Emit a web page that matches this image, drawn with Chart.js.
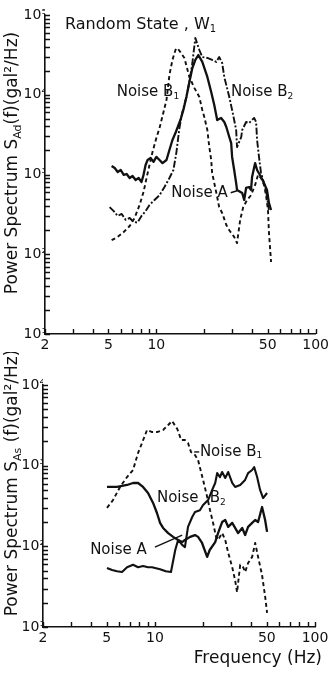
<!DOCTYPE html>
<html>
<head>
<meta charset="utf-8">
<script src="https://cdn.jsdelivr.net/npm/chart.js@4.4.1/dist/chart.umd.min.js"></script>
<style>
  html, body { margin: 0; padding: 0; background: #fff; }
  body { width: 332px; height: 673px; position: relative; overflow: hidden; }
  canvas { position: absolute; left: 0; }
  #topChart { top: 0; }
  #bottomChart { top: 352px; }
</style>
</head>
<body>
<canvas id="topChart" width="332" height="352"></canvas>
<canvas id="bottomChart" width="332" height="321"></canvas>
<script>
// ---- upper panel: response spectra, random state W1 ----
const topAFreq  = [5.24,5.48,5.72,5.97,6.24,6.51,6.80,7.09,7.41,7.74,8.07,8.31,8.56,8.81,9.20,9.60,10.0,10.47,10.93,11.58,12.08,12.62,13.18,13.55,14.16,14.78,15.44,16.12,16.83,17.57,18.35,19.43,20.9,22.1,23.1,24.1,25.5,26.7,27.5,28.7,29.5,29.9,30.8,31.7,32.1,34.6,35.6,36.6,38.2,39.3,39.9,41.7,42.9,45.4,47.4,49.5,50.9,52.5];
const topAPower = [1280,1205,1075,1140,990,1015,904,958,853,904,805,990,1315,1520,1610,1440,1660,1520,1390,1520,2030,2710,3310,3830,4820,6440,9370,14450,21600,27300,31500,25800,16700,10800,7430,4820,5120,4550,3940,2950,2480,1660,1140,780,640,586,479,678,697,640,930,1390,1140,930,780,640,440,359];

const topB1Freq  = [5.24,5.72,6.24,6.80,7.30,7.85,8.31,8.68,9.06,9.46,10.0,10.47,10.93,11.58,12.08,12.62,13.18,13.55,14.16,15.0,16.12,17.32,18.62,19.43,20.0,20.9,21.5,22.1,22.4,23.1,24.1,24.8,25.9,27.5,28.7,30.8,32.1,33.6,35.1,37.1,39.3,41.7,43.5,45.4,47.4,48.8,50.2,50.9,52.5];
const topB1Power = [150,165,190,226,285,415,604,904,1315,1910,2870,3830,5400,8590,17700,27300,36400,38500,34300,28900,16700,12200,9370,6440,5260,3610,2210,1520,1045,782,522,390,329,233,200,165,138,270,390,479,550,740,990,904,740,550,359,190,80];

const topB2Freq  = [5.09,5.40,5.72,6.06,6.42,6.80,7.20,7.62,8.07,8.56,9.06,9.74,10.47,11.25,12.08,12.80,13.37,13.96,14.57,15.44,16.12,16.83,17.57,18.62,19.43,20.9,22.4,23.8,24.8,25.9,26.7,27.5,28.7,29.9,30.8,31.7,32.1,34.1,34.6,36.6,38.2,41.1,42.3,42.9,44.1,45.4,47.4,48.8,50.9];
const topB2Power = [390,348,302,320,270,285,254,250,302,348,415,479,550,697,904,1140,1910,3830,6080,9370,14450,25000,51500,36400,29700,28900,27300,25800,29700,25000,16700,13200,9370,6440,4820,3610,2210,2950,3610,4550,4420,5120,4550,2710,1660,1045,780,640,359];

// ---- lower panel: input noise spectra ----
const botAFreq  = [5.02,5.80,6.70,7.30,7.85,8.43,9.06,9.74,10.3,10.77,11.25,12.1,13.0,13.96,14.8,15.4,16.6,17.8,18.6,19.7,21.2,22.0,23.8,24.8,26.3,27.5,28.7,30.4,31.7,33.1,35.1,36.6,38.2,40.5,42.3,44.1,46.7,48.8,50.2];
const botAPower = [545,545,576,610,610,545,458,345,259,195,169,146,131,120,113,120,131,138,131,110,74,90,113,146,200,212,174,195,169,146,169,138,174,195,212,200,307,212,151];

const botB1Freq  = [5.02,5.48,6.06,6.70,7.30,7.85,8.31,8.93,9.60,10.3,11.25,12.1,12.8,13.8,14.6,15.4,16.1,16.8,17.8,18.6,20.0,21.2,22.1,23.1,24.1,24.8,26.3,27.5,28.7,30.4,31.7,32.6,34.1,35.6,36.6,38.2,40.5,42.3,44.1,46.7,48.8,50.2];
const botB1Power = [300,375,545,723,883,1440,1910,2770,2610,2610,2770,3190,3580,2850,2080,2080,1910,1480,1355,1175,665,410,280,195,131,120,146,120,83,55,38,27,59,55,48,62,74,110,74,44,24,15];

const botB2Freq  = [5.02,5.40,5.80,6.23,6.70,7.30,7.85,8.43,9.06,9.6,10.77,11.7,12.6,13.4,13.96,14.8,15.4,16.1,17.1,17.8,19.1,20.0,21.5,22.8,23.8,24.5,25.5,26.3,27.5,28.7,30.4,31.7,34.1,36.6,38.2,40.5,41.7,43.5,45.4,47.4,50.2];
const botB2Power = [54,51,49,48,55,59,55,57,55,55,52,49,48,90,120,104,98,174,231,267,280,325,375,500,610,810,723,834,703,834,610,545,576,665,810,883,960,723,500,397,458];

// axis ticks
const xTickValues = [2,3,4,5,6,7,8,9,10,20,30,40,50,60,70,80,90,100];
const xTickLabels = [2, 5, 10, 50, 100];
const yDecades = [10, 100, 1000, 10000, 100000];
const SUP = ['⁰','¹','²','³','⁴','⁵'];

const INK = '#111';
const FAMILY = '"DejaVu Sans", sans-serif';

function logTicks(lo, hi) {
    const out = [];
    for (let d = lo; d < hi; d *= 10) {
        for (let m = 1; m < 10; m++) out.push(m * d);
    }
    out.push(hi);
    return out;
}

// parts: plain strings, or one-element arrays for subscripts
function richWidth(ctx, parts, size) {
    let w = 0;
    parts.forEach(p => {
        const sub = Array.isArray(p);
        ctx.font = `${sub ? Math.round(size * 0.62) : size}px ${FAMILY}`;
        w += ctx.measureText(sub ? p[0] : p).width;
    });
    return w;
}

function drawRich(ctx, parts, x, y, size) {
    let cx = x;
    parts.forEach(p => {
        const sub = Array.isArray(p);
        const txt = sub ? p[0] : p;
        ctx.font = `${sub ? Math.round(size * 0.62) : size}px ${FAMILY}`;
        ctx.fillText(txt, cx, sub ? y + size * 0.28 : y);
        cx += ctx.measureText(txt).width;
    });
}

// tick marks pointing into the plot
const inwardTicks = {
    id: 'inwardTicks',
    afterDraw(chart) {
        const { ctx, chartArea, scales: { x, y } } = chart;
        ctx.save();
        ctx.strokeStyle = INK;
        ctx.lineWidth = 1.4;
        ctx.beginPath();
        x.ticks.forEach(t => {
            const px = Math.round(x.getPixelForValue(t.value)) + 0.5;
            ctx.moveTo(px, chartArea.bottom);
            ctx.lineTo(px, chartArea.bottom - 5);
        });
        y.ticks.forEach(t => {
            const py = Math.round(y.getPixelForValue(t.value)) + 0.5;
            ctx.moveTo(chartArea.left, py);
            ctx.lineTo(chartArea.left + 5, py);
        });
        ctx.stroke();
        ctx.restore();
    }
};

// curve labels, leader lines and axis titles
const panelText = {
    id: 'panelText',
    afterDraw(chart, args, opts) {
        const { ctx, scales: { x, y } } = chart;
        ctx.save();
        ctx.fillStyle = INK;
        ctx.strokeStyle = INK;
        ctx.textBaseline = 'middle';
        ctx.textAlign = 'left';

        (opts.notes || []).forEach(n => {
            drawRich(ctx, n.parts, x.getPixelForValue(n.at[0]), y.getPixelForValue(n.at[1]), n.size);
        });

        ctx.lineWidth = 1.4;
        (opts.leaders || []).forEach(([a, b]) => {
            ctx.beginPath();
            ctx.moveTo(x.getPixelForValue(a[0]), y.getPixelForValue(a[1]));
            ctx.lineTo(x.getPixelForValue(b[0]), y.getPixelForValue(b[1]));
            ctx.stroke();
        });

        if (opts.yTitle) {
            const t = opts.yTitle;
            ctx.save();
            ctx.translate(t.x, t.y);
            ctx.rotate(-Math.PI / 2);
            drawRich(ctx, t.parts, -richWidth(ctx, t.parts, t.size) / 2, 0, t.size);
            ctx.restore();
        }
        if (opts.xTitle) {
            const t = opts.xTitle;
            drawRich(ctx, t.parts, t.x - richWidth(ctx, t.parts, t.size), t.y, t.size);
        }
        ctx.restore();
    }
};

function buildPanel(id, cfg) {
    const tickFont = { family: FAMILY, size: 14 };
    return new Chart(document.getElementById(id), {
        type: 'line',
        data: {
            datasets: cfg.series.map(s => ({
                data: s.freq.map((f, i) => ({ x: f, y: s.power[i] })),
                borderColor: INK,
                borderWidth: s.width,
                borderDash: s.dash,
                borderJoinStyle: 'round',
                pointRadius: 0,
                tension: 0,
                fill: false
            }))
        },
        options: {
            responsive: false,
            animation: false,
            devicePixelRatio: 1,
            layout: { padding: cfg.padding },
            plugins: {
                legend: { display: false },
                tooltip: { enabled: false },
                panelText: cfg.text
            },
            scales: {
                x: {
                    type: 'logarithmic',
                    min: 2,
                    max: 100,
                    grid: { display: false, drawTicks: false },
                    border: { color: INK, width: 1.6 },
                    afterBuildTicks: scale => { scale.ticks = xTickValues.map(v => ({ value: v })); },
                    afterFit: scale => { scale.height = cfg.xHeight; },
                    ticks: {
                        autoSkip: false,
                        maxRotation: 0,
                        padding: 3,
                        color: INK,
                        font: tickFont,
                        callback: v => xTickLabels.includes(v) ? String(v) : ''
                    }
                },
                y: {
                    type: 'logarithmic',
                    min: 10,
                    max: cfg.yMax,
                    grid: { display: false, drawTicks: false },
                    border: { color: INK, width: 1.6 },
                    afterBuildTicks: scale => { scale.ticks = logTicks(10, cfg.yMax).map(v => ({ value: v })); },
                    afterFit: scale => { scale.width = cfg.yWidth; },
                    ticks: {
                        autoSkip: false,
                        padding: -2,
                        color: INK,
                        font: tickFont,
                        callback: v => {
                            const k = yDecades.indexOf(v);
                            return k >= 0 ? '10' + SUP[k + 1] : '';
                        }
                    }
                }
            }
        },
        plugins: [inwardTicks, panelText]
    });
}

buildPanel('topChart', {
    yMax: 100000,
    padding: { top: 15, right: 15, bottom: 0, left: 0 },
    yWidth: 45,
    xHeight: 18,
    series: [
        { freq: topB1Freq, power: topB1Power, width: 1.9, dash: [4, 3] },
        { freq: topB2Freq, power: topB2Power, width: 1.9, dash: [7, 2, 2, 2] },
        { freq: topAFreq, power: topAPower, width: 2.3, dash: [] }
    ],
    text: {
        notes: [
            { parts: ['Random State , W', ['1']], at: [2.67, 75000], size: 16 },
            { parts: ['Noise B', ['1']], at: [5.64, 10800], size: 15 },
            { parts: ['Noise B', ['2']], at: [29.4, 10800], size: 15 },
            { parts: ['Noise A'], at: [12.4, 586], size: 15 }
        ],
        leaders: [[[29.3, 590], [32.1, 625]]],
        yTitle: { parts: ['Power Spectrum S', ['Ad'], '(f)(gal²/Hz)'], x: 13, y: 163, size: 17 }
    }
});

buildPanel('bottomChart', {
    yMax: 10000,
    padding: { top: 33, right: 17, bottom: 0, left: 0 },
    yWidth: 43,
    xHeight: 46,
    series: [
        { freq: botB1Freq, power: botB1Power, width: 1.9, dash: [4, 3] },
        { freq: botB2Freq, power: botB2Power, width: 2.1, dash: [] },
        { freq: botAFreq, power: botAPower, width: 2.3, dash: [] }
    ],
    text: {
        notes: [
            { parts: ['Noise B', ['1']], at: [19.1, 1480], size: 15 },
            { parts: ['Noise'], at: [10.3, 397], size: 15 },
            { parts: ['B', ['2']], at: [22.0, 397], size: 15 },
            { parts: ['Noise A'], at: [3.94, 90], size: 15 }
        ],
        leaders: [
            [[17.6, 1480], [18.9, 1480]],
            [[10.0, 98], [14.8, 138]]
        ],
        yTitle: { parts: ['Power Spectrum S', ['As'], ' (f)(gal²/Hz)'], x: 13, y: 131, size: 17 },
        xTitle: { parts: ['Frequency (Hz)'], x: 322, y: 307, size: 17 }
    }
});
</script>
</body>
</html>
